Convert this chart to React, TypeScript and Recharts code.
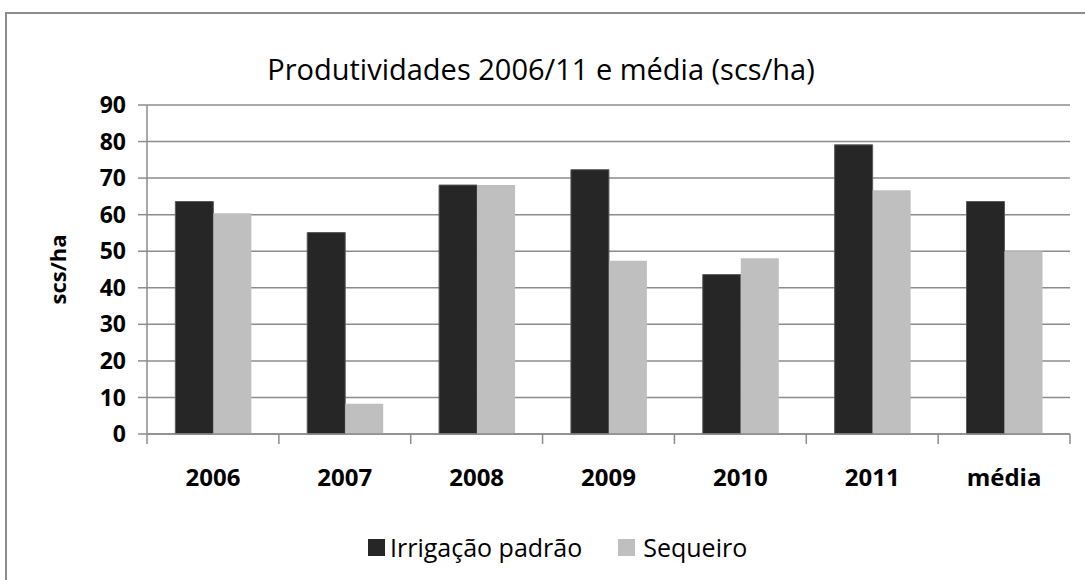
import { BarChart, Bar, XAxis, YAxis, CartesianGrid } from "recharts";

const categories = ["2006", "2007", "2008", "2009", "2010", "2011", "média"];
const irrigacao = [63.6, 55.1, 68.1, 72.3, 43.6, 79.1, 63.6];
const sequeiro = [60.4, 8.3, 68.1, 47.4, 48.1, 66.7, 50.0];
const yTicks = [0, 10, 20, 30, 40, 50, 60, 70, 80, 90];

const data = categories.map((c, i) => ({
  name: c,
  irrigacao: irrigacao[i],
  sequeiro: sequeiro[i],
}));

const W = 1085;
const H = 580;
const M = { top: 105, right: 15, left: 87, bottom: 106 };
const Y_W = 60;
const X_H = 40;
const plotLeft = M.left + Y_W;
const plotW = W - plotLeft - M.right;
const plotBottom = H - M.bottom - X_H;
const band = plotW / categories.length;

const FONT = "'Open Sans', 'Noto Sans', sans-serif";
const AXIS = "#8c8c8c";

function XTick(props: any) {
  const { x, payload, index } = props;
  const last = index === categories.length - 1;
  return (
    <g>
      <line x1={x - band / 2} x2={x - band / 2} y1={plotBottom} y2={plotBottom + 10} stroke={AXIS} strokeWidth={1.5} />
      {last && (
        <line x1={x + band / 2} x2={x + band / 2} y1={plotBottom} y2={plotBottom + 10} stroke={AXIS} strokeWidth={1.5} />
      )}
      <text x={x} y={plotBottom + 52} textAnchor="middle" fontFamily={FONT} fontWeight={700} fontSize={24} fill="#000">
        {payload.value}
      </text>
    </g>
  );
}

function YLabel(props: any) {
  const { viewBox } = props;
  const cx = viewBox.x - 30;
  const cy = viewBox.y + viewBox.height / 2;
  return (
    <text
      x={cx}
      y={cy}
      transform={`rotate(-90, ${cx}, ${cy})`}
      textAnchor="middle"
      dominantBaseline="central"
      fontFamily={FONT}
      fontWeight={700}
      fontSize={22}
      fill="#000"
    >
      scs/ha
    </text>
  );
}

export default function App() {
  return (
    <div style={{ position: "absolute", left: 0, top: 0, width: W, height: H, overflow: "hidden", background: "#fff" }}>
      <div
        style={{
          position: "absolute",
          left: 5,
          top: 12,
          width: W + 20,
          height: H + 20,
          border: `2px solid ${AXIS}`,
        }}
      />
      <div
        style={{
          position: "absolute",
          left: 0,
          top: 50,
          width: 1082,
          textAlign: "center",
          fontFamily: FONT,
          fontSize: 29,
          lineHeight: "38px",
          color: "#000",
        }}
      >
        Produtividades 2006/11 e média (scs/ha)
      </div>
      <div style={{ position: "absolute", left: 0, top: 0 }}>
        <BarChart width={W} height={H} data={data} margin={M} barCategoryGap="21.5%" barGap={0}>
          <CartesianGrid vertical={false} stroke={AXIS} strokeWidth={1.5} />
          <XAxis
            dataKey="name"
            height={X_H}
            stroke={AXIS}
            strokeWidth={1.5}
            tickLine={false}
            tick={<XTick />}
            interval={0}
          />
          <YAxis
            width={Y_W}
            domain={[0, 90]}
            ticks={yTicks}
            interval={0}
            stroke={AXIS}
            strokeWidth={1.5}
            tickSize={9}
            tickMargin={12}
            tick={{ fontFamily: FONT, fontWeight: 700, fontSize: 23, fill: "#000" }}
            label={<YLabel />}
          />
          <Bar dataKey="irrigacao" fill="#262626" stroke="#5a5a5a" strokeWidth={1} isAnimationActive={false} />
          <Bar dataKey="sequeiro" fill="#bfbfbf" isAnimationActive={false} />
        </BarChart>
      </div>
      <div
        style={{
          position: "absolute",
          left: 368,
          top: 530,
          display: "flex",
          alignItems: "center",
          fontFamily: FONT,
          fontSize: 25,
          color: "#000",
        }}
      >
        <span style={{ width: 17, height: 17, background: "#262626", display: "inline-block", marginRight: 5 }} />
        <span style={{ marginRight: 36 }}>Irrigação padrão</span>
        <span style={{ width: 17, height: 17, background: "#bfbfbf", display: "inline-block", marginRight: 8 }} />
        <span>Sequeiro</span>
      </div>
    </div>
  );
}
